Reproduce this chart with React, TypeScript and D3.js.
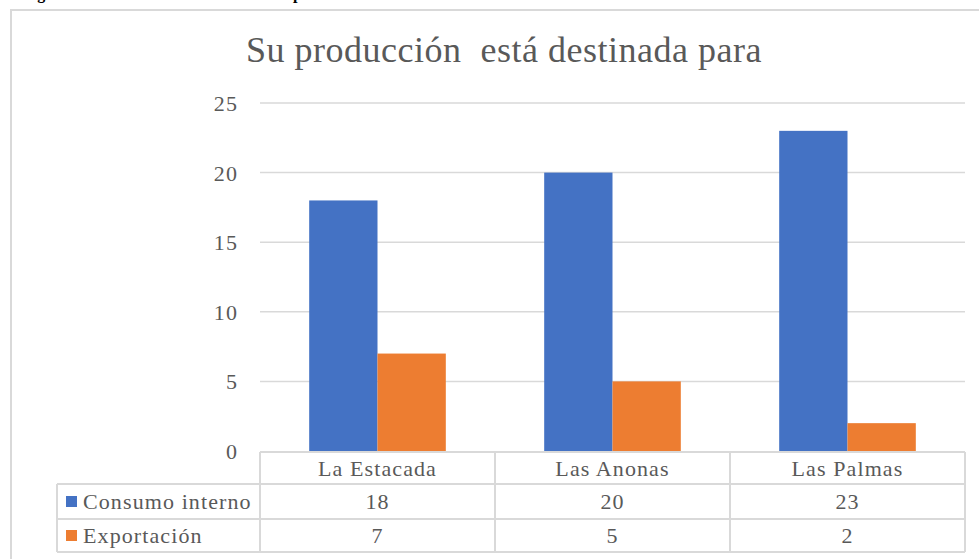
import React from "react";
import * as d3 from "d3";

const categories = ["La Estacada", "Las Anonas", "Las Palmas"];
const seriesNames = ["Consumo interno", "Exportación"];
const consumoInterno = [18, 20, 23];
const exportacion = [7, 5, 2];
const yTicks = [0, 5, 10, 15, 20, 25];
const colors = ["#4472C4", "#ED7D31"];
const title = "Su producción  está destinada para";

const font = "Liberation Serif, Times New Roman, DejaVu Serif, serif";

export default function App() {
  const W = 979, H = 559;
  const plotLeft = 260, plotRight = 965, plotTop = 103, plotBottom = 451;
  const x = d3.scaleBand<string>().domain(categories).range([plotLeft, plotRight]).paddingInner(0).paddingOuter(0);
  const inner = d3.scaleBand<string>().domain(seriesNames).range([0, x.bandwidth()]).paddingInner(0).paddingOuter(0.72);
  const y = d3.scaleLinear().domain([0, 25]).range([plotBottom, plotTop]);
  const series = [consumoInterno, exportacion];
  const grid = "#d9d9d9";
  const txt = "#595959";
  const rowLines = [452, 484, 519, 552];
  const legendLeft = 57;
  const rowMid = [(484 + 519) / 2, (519 + 552) / 2];
  const ts = { fontFamily: font } as React.CSSProperties;
  const fs = 22;
  const ls = 1.1;

  return (
    <svg width={W} height={H} style={{ position: "absolute", left: 0, top: 0, background: "#fff", fontFamily: font }}>
      <rect x={0} y={0} width={W} height={H} fill="#fff" />
      <text x={23} y={-1} fontSize={16} fontWeight="bold" fill="#000" style={ts}>
        Figura 10.<tspan x={293}>producción</tspan>
      </text>
      <rect x={11} y={10} width={1000} height={600} fill="none" stroke={grid} strokeWidth={2} />
      <text x={504} y={62} textAnchor="middle" fontSize={36} letterSpacing={0.5} fill={txt} style={{ ...ts, whiteSpace: "pre" }}>
        {title}
      </text>
      {yTicks.map((t) => (
        <g key={t}>
          {t > 0 && <line x1={plotLeft} x2={plotRight} y1={y(t)} y2={y(t)} stroke={grid} strokeWidth={1.5} />}
          <text x={238} y={y(t) + 8} textAnchor="end" fontSize={fs} letterSpacing={ls} fill={txt} style={ts}>{t}</text>
        </g>
      ))}
      {categories.map((c, i) => (
        <g key={c}>
          {seriesNames.map((s, j) => (
            <rect key={s} x={(x(c) as number) + (inner(s) as number)} width={inner.bandwidth()}
              y={y(series[j][i])} height={y(0) - y(series[j][i])} fill={colors[j]} />
          ))}
        </g>
      ))}
      <line x1={plotLeft} x2={plotRight} y1={rowLines[0]} y2={rowLines[0]} stroke={grid} strokeWidth={2} />
      {rowLines.slice(1).map((ry) => (
        <line key={ry} x1={legendLeft} x2={plotRight} y1={ry} y2={ry} stroke={grid} strokeWidth={2} />
      ))}
      <line x1={legendLeft} x2={legendLeft} y1={rowLines[1]} y2={rowLines[3]} stroke={grid} strokeWidth={2} />
      {[plotLeft, ...categories.map((c) => (x(c) as number) + x.bandwidth())].map((vx) => (
        <line key={vx} x1={vx} x2={vx} y1={rowLines[0]} y2={rowLines[3]} stroke={grid} strokeWidth={2} />
      ))}
      {categories.map((c) => (
        <text key={c} x={(x(c) as number) + x.bandwidth() / 2} y={476} textAnchor="middle" fontSize={fs} letterSpacing={ls} fill={txt} style={ts}>{c}</text>
      ))}
      {seriesNames.map((s, j) => (
        <g key={s}>
          <rect x={66} y={rowMid[j] - 5.5} width={11} height={11} fill={colors[j]} />
          <text x={83} y={rowMid[j] + 7.5} fontSize={fs} letterSpacing={ls} fill={txt} style={ts}>{s}</text>
          {categories.map((c, i) => (
            <text key={c} x={(x(c) as number) + x.bandwidth() / 2} y={rowMid[j] + 7.5} textAnchor="middle" fontSize={fs} letterSpacing={ls} fill={txt} style={ts}>{series[j][i]}</text>
          ))}
        </g>
      ))}
    </svg>
  );
}
